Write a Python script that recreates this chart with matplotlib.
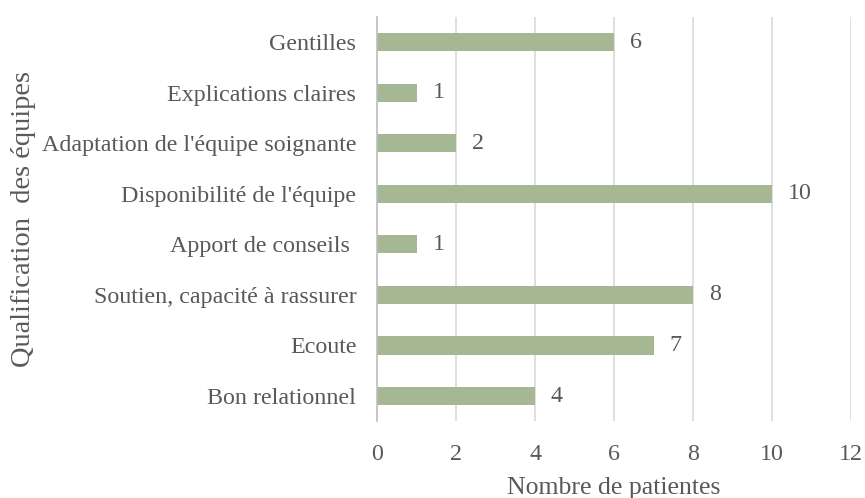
import matplotlib
matplotlib.use("Agg")
import matplotlib.pyplot as plt

categories = ['Bon relationnel', 'Ecoute', 'Soutien, capacité à rassurer',
              'Apport de conseils ', "Disponibilité de l'équipe",
              "Adaptation de l'équipe soignante", 'Explications claires', 'Gentilles']
values = [4, 7, 8, 1, 10, 2, 1, 6]
xticks = [0, 2, 4, 6, 8, 10, 12]

plt.rcParams['font.family'] = ['Liberation Serif', 'DejaVu Serif']
grey = '#595959'

fig = plt.figure(figsize=(8.65, 4.98), dpi=100)
ax = fig.add_axes([0.436, 0.154, 0.548, 0.812])

bars = ax.barh(categories, values, height=0.36, color='#a5b893', zorder=3)
for rect, v in zip(bars, values):
    ax.text(rect.get_width() + 0.4, rect.get_y() + rect.get_height() / 2, str(v),
            va='center', ha='left', fontsize=17.3, color=grey)

ax.set_xlim(0, 12)
ax.set_ylim(-0.5, len(categories) - 0.5)
ax.set_xticks(xticks)
ax.grid(axis='x', color='#d9d9d9', linewidth=1.2, zorder=0)
for s in ['top', 'right', 'bottom']:
    ax.spines[s].set_visible(False)
ax.spines['left'].set_color('#bfbfbf')
ax.spines['left'].set_linewidth(1.2)
ax.spines['left'].set_zorder(4)
ax.tick_params(axis='both', length=0, labelsize=17.3, labelcolor=grey)
ax.tick_params(axis='x', pad=16)
ax.tick_params(axis='y', pad=15)

ax.set_xlabel('Nombre de patientes', fontsize=18.5, color=grey, labelpad=9)
ax.set_ylabel('Qualification  des équipes', fontsize=20.5, color=grey, labelpad=4)

fig.savefig('out.png', dpi=100)
